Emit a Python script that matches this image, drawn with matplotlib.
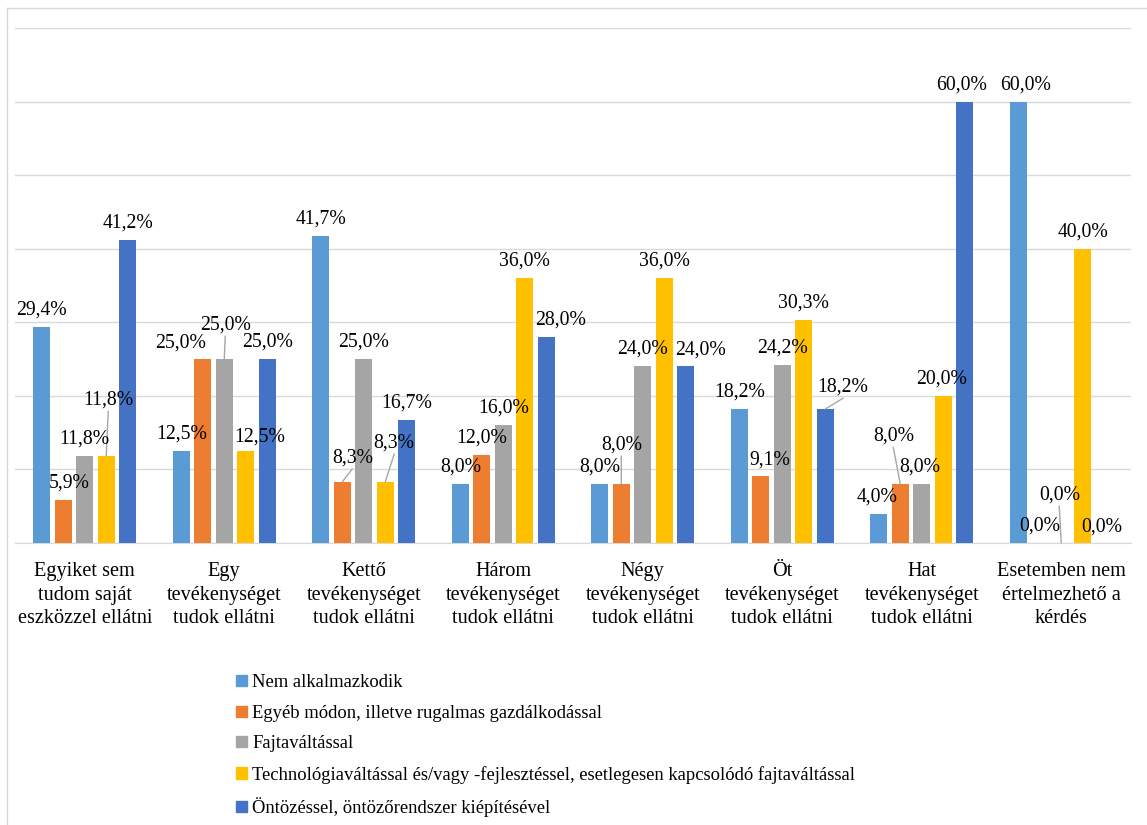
import matplotlib.pyplot as plt
from matplotlib.patches import Patch
from matplotlib.lines import Line2D
import numpy as np

plt.rcParams['font.family'] = ['Liberation Serif', 'DejaVu Serif']

# categories (x axis)
categories = [
    'Egyiket sem\ntudom saját\neszközzel ellátni',
    'Egy\ntevékenységet\ntudok ellátni',
    'Kettő\ntevékenységet\ntudok ellátni',
    'Három\ntevékenységet\ntudok ellátni',
    'Négy\ntevékenységet\ntudok ellátni',
    'Öt\ntevékenységet\ntudok ellátni',
    'Hat\ntevékenységet\ntudok ellátni',
    'Esetemben nem\nértelmezhető a\nkérdés',
]

series_names = [
    'Nem alkalmazkodik',
    'Egyéb módon, illetve rugalmas gazdálkodással',
    'Fajtaváltással',
    'Technológiaváltással és/vagy -fejlesztéssel, esetlegesen kapcsolódó fajtaváltással',
    'Öntözéssel, öntözőrendszer kiépítésével',
]

nem_alkalmazkodik = [29.4, 12.5, 41.7, 8.0, 8.0, 18.2, 4.0, 60.0]
egyeb_modon = [5.9, 25.0, 8.3, 12.0, 8.0, 9.1, 8.0, 0.0]
fajtavaltas = [11.8, 25.0, 25.0, 16.0, 24.0, 24.2, 8.0, 0.0]
technologia = [11.8, 12.5, 8.3, 36.0, 36.0, 30.3, 20.0, 40.0]
ontozes = [41.2, 25.0, 16.7, 28.0, 24.0, 18.2, 60.0, 0.0]

values = [nem_alkalmazkodik, egyeb_modon, fajtavaltas, technologia, ontozes]
colors = ['#5b9bd5', '#ed7d31', '#a5a5a5', '#ffc000', '#4472c4']

# label placement tweaks: (group, series) -> (dx px, dy px, leader line)
label_moves = {
    (0, 1): (6, 17, False),
    (0, 3): (2, 56, True),
    (1, 1): (-22, 16, False),
    (1, 2): (1, 34, True),
    (1, 3): (14, 14, False),
    (2, 1): (10, 24, True),
    (2, 3): (9, 39, True),
    (3, 4): (14, 17, False),
    (4, 1): (0, 39, True),
    (4, 4): (15, 16, False),
    (5, 1): (9, 16, False),
    (5, 4): (18, 22, True),
    (6, 0): (-2, 17, False),
    (6, 1): (-7, 48, True),
    (6, 2): (-2, 17, False),
    (6, 3): (-2, 17, False),
    (6, 4): (-3, 17, False),
    (7, 0): (7, 17, False),
    (7, 2): (-2, 48, True),
    (7, 4): (-2, 16, False),
}

fig = plt.figure(figsize=(11.47, 8.25), dpi=100)
ax = fig.add_axes([15 / 1147, 1 - 543 / 825, 1116 / 1147, 515 / 825])

x = np.arange(len(categories))
step = 0.154
width = 0.122
for i, vals in enumerate(values):
    pos = x + (i - 2) * step
    ax.bar(pos, vals, width, color=colors[i], zorder=3)
    for g, v in enumerate(vals):
        dx, dy, leader = label_moves.get((g, i), (0, 17, False))
        ax.annotate(f'{v:.1f}%'.replace('.', ','), (pos[g], v),
                    xytext=(dx, dy), textcoords='offset pixels',
                    ha='center', va='center', fontsize=14.2, zorder=5)
        if leader:
            ax.annotate('', (pos[g], v), xytext=(dx, dy - 11),
                        textcoords='offset pixels',
                        arrowprops=dict(arrowstyle='-', color='#a6a6a6',
                                        lw=1, shrinkA=0, shrinkB=0),
                        zorder=4)

ax.set_xlim(-0.5, len(categories) - 0.5)
ax.set_ylim(0, 70)
ax.set_yticks(np.arange(0, 71, 10))
ax.set_yticklabels([])
ax.tick_params(axis='y', length=0)
ax.grid(axis='y', color='#d9d9d9', lw=1, zorder=0)
ax.set_xticks(x)
ax.set_xticklabels(categories, fontsize=14.6, linespacing=1.32)
ax.tick_params(axis='x', length=0, pad=14)
for s in ['top', 'right', 'left']:
    ax.spines[s].set_visible(False)
ax.spines['bottom'].set_color('#d9d9d9')

# legend below
handles = [Patch(color=c) for c in colors]
fig.legend(handles, series_names, loc='upper left',
           bbox_to_anchor=(229 / 1147, 1 - 667 / 825), frameon=False,
           fontsize=13.4, handlelength=0.55, handleheight=0.55,
           handletextpad=0.3, labelspacing=0.72, borderaxespad=0)

# chart frame
fig.add_artist(Line2D([7 / 1147, 1], [1 - 8 / 825] * 2, color='#d9d9d9', lw=1))
fig.add_artist(Line2D([7 / 1147] * 2, [0, 1 - 8 / 825], color='#d9d9d9', lw=1))

fig.savefig('out.png', dpi=100)
